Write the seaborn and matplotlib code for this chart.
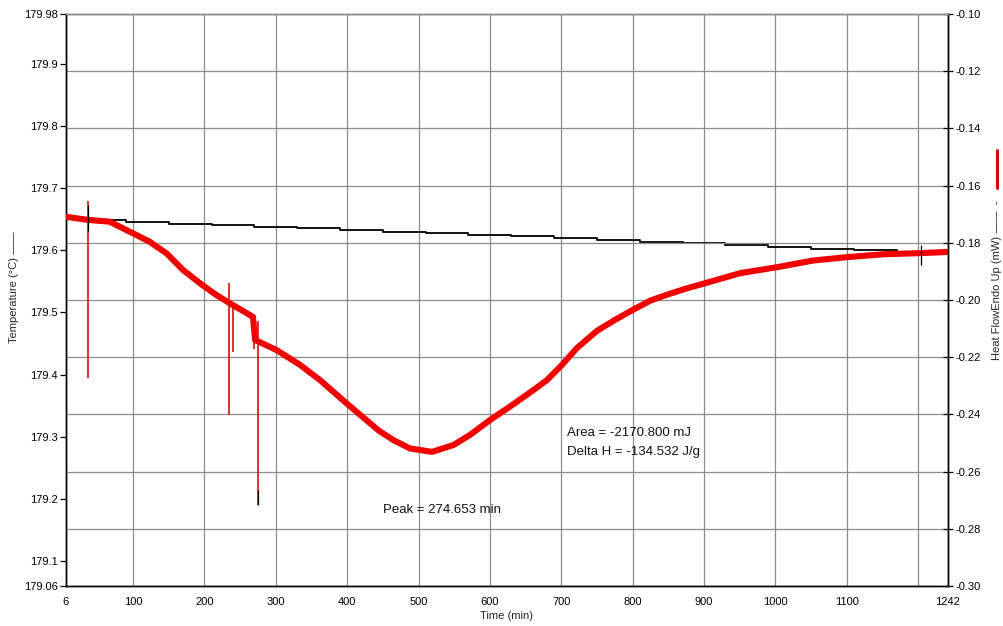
import matplotlib
matplotlib.use('Agg')
import matplotlib.pyplot as plt
import seaborn as sns
from matplotlib.lines import Line2D

# heat flow curve (mW)
time_min = [6, 37, 67, 100, 123, 147, 170, 194, 217, 236, 268, 271, 301, 334, 362, 399, 427,
            445, 465, 488, 519, 549, 572, 600, 628, 661, 680, 701, 722, 750, 775, 800, 825,
            850, 875, 902, 951, 1003, 1053, 1101, 1152, 1204, 1242]
heat_flow = [-0.1709, -0.1720, -0.1726, -0.1767, -0.1796, -0.1837, -0.1895, -0.1942, -0.1983,
             -0.2012, -0.2059, -0.2140, -0.2175, -0.2227, -0.2280, -0.2361, -0.2420, -0.2458,
             -0.2490, -0.2519, -0.2531, -0.2507, -0.2472, -0.2420, -0.2373, -0.2315, -0.2280,
             -0.2227, -0.2168, -0.2108, -0.2070, -0.2035, -0.2002, -0.1980, -0.1960, -0.1941,
             -0.1906, -0.1885, -0.1862, -0.1850, -0.1840, -0.1836, -0.1832]

# spikes in the heat flow signal
spike_t = [37, 234, 240, 269, 275]
spike_top = [-0.1654, -0.1941, -0.2024, -0.2070, -0.2072]
spike_bottom = [-0.2273, -0.2402, -0.2182, -0.2172, -0.2717]

# temperature (black, stepped)
temp_t = [35, 90, 150, 210, 270, 330, 390, 450, 510, 570, 630, 690, 750, 810, 870, 930,
          990, 1050, 1110, 1170, 1204]
temp_c = [179.649, 179.646, 179.643, 179.640, 179.638, 179.636, 179.633, 179.630, 179.628,
          179.625, 179.623, 179.620, 179.617, 179.614, 179.611, 179.608, 179.605, 179.602,
          179.600, 179.597, 179.596]

x_ticks = [6, 100, 200, 300, 400, 500, 600, 700, 800, 900, 1000, 1100, 1200, 1242]
x_labels = ['6', '100', '200', '300', '400', '500', '600', '700', '800', '900', '1000', '1100', '', '1242']
left_ticks = [179.06, 179.1, 179.2, 179.3, 179.4, 179.5, 179.6, 179.7, 179.8, 179.9, 179.98]
left_labels = ['179.06', '179.1', '179.2', '179.3', '179.4', '179.5', '179.6', '179.7', '179.8', '179.9', '179.98']
right_ticks = [-0.30, -0.28, -0.26, -0.24, -0.22, -0.20, -0.18, -0.16, -0.14, -0.12, -0.10]

sns.set_style('white')
plt.rcParams['font.family'] = ['Liberation Sans', 'DejaVu Sans']

fig = plt.figure(figsize=(10.04, 6.26), dpi=100)
ax = fig.add_axes([66 / 1004, 1 - 586 / 626, 882 / 1004, 572 / 626])
ax2 = ax.twinx()

grid_c = '#8c8c8c'

# vertical grid on the left axes, horizontal grid follows the right axis
ax.set_xlim(6, 1242)
ax.set_xticks(x_ticks)
ax.set_xticklabels(x_labels)
ax.grid(axis='x', color=grid_c, lw=0.9)
ax.set_ylim(179.06, 179.98)
ax.set_yticks(left_ticks)
ax.set_yticklabels(left_labels)

ax2.set_ylim(-0.30, -0.10)
ax2.set_yticks(right_ticks)
ax2.set_yticklabels(['%.2f' % v for v in right_ticks])
ax2.set_axisbelow(True)
ax2.grid(axis='y', color=grid_c, lw=0.9)

# temperature line
sns.lineplot(x=temp_t, y=temp_c, ax=ax, color='black', lw=1.3, drawstyle='steps-post',
             sort=False, estimator=None, legend=False, zorder=3)

# heat flow
ax2.vlines(spike_t, spike_bottom, spike_top, color='#dd1f1f', lw=1.3, zorder=4)
sns.lineplot(x=time_min, y=heat_flow, ax=ax2, color='#f20000', lw=4.4,
             sort=False, estimator=None, legend=False, zorder=5)
ax2.vlines([37, 1204, 275], [-0.1760, -0.1806, -0.2665], [-0.1668, -0.1876, -0.2717],
           color='black', lw=0.9, zorder=6)

for a in (ax, ax2):
    a.set_xlabel('')
    a.set_ylabel('')
    for s in a.spines.values():
        s.set_color('black')
        s.set_linewidth(1.0)
    a.spines['top'].set_color(grid_c)

ax.tick_params(axis='y', direction='out', length=4, width=0.9, labelsize=8, pad=2, colors='black')
ax.tick_params(axis='x', direction='inout', length=6, width=0.9, labelsize=8, pad=5, colors='black')
ax2.tick_params(axis='y', direction='inout', length=7, width=0.9, labelsize=8, pad=2, colors='black')

ax.set_xlabel('Time (min)', fontsize=8, labelpad=3)

txt_kw = dict(transform=ax.transAxes, fontsize=9.5, va='center', ha='left', color='#111111', zorder=10)
ax.text(0.568, 0.2675, 'Area = -2170.800 mJ', **txt_kw)
ax.text(0.568, 0.234, 'Delta H = -134.532 J/g', **txt_kw)
ax.text(0.359, 0.133, 'Peak = 274.653 min', **txt_kw)

fig.text(14 / 1004, 1 - 287 / 626, 'Temperature (°C) ——', rotation=90, fontsize=8,
         ha='center', va='center')
fig.text(997 / 1004, 1 - 280 / 626, 'Heat FlowEndo Up (mW) ——  -', rotation=90, fontsize=8,
         ha='center', va='center')
fig.add_artist(Line2D([997 / 1004, 997 / 1004], [1 - 188 / 626, 1 - 150 / 626],
                      transform=fig.transFigure, color='#e00000', lw=2.2))

fig.savefig('out.png', dpi=100)
